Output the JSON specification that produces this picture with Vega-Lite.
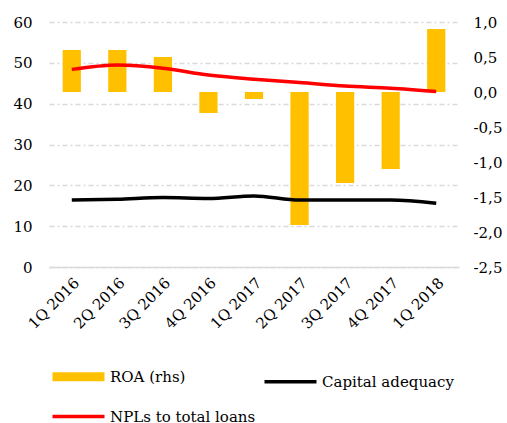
{
  "$schema": "https://vega.github.io/schema/vega-lite/v6.json",
  "width": 410,
  "height": 245,
  "autosize": {"type": "none"},
  "padding": {"left": 49, "top": 22, "right": 48, "bottom": 156},
  "background": "white",
  "config": {
    "view": {"stroke": null},
    "font": "DejaVu Serif",
    "axis": {"labelFont": "DejaVu Serif", "labelFontSize": 15, "labelColor": "#000000", "ticks": false, "domain": false, "title": null},
    "legend": {"labelFont": "DejaVu Serif", "labelFontSize": 15, "labelColor": "#000000"}
  },
  "data": {
    "values": [
      {"q": "1Q 2016", "s": "ROA (rhs)", "v": 0.6},
      {"q": "2Q 2016", "s": "ROA (rhs)", "v": 0.6},
      {"q": "3Q 2016", "s": "ROA (rhs)", "v": 0.5},
      {"q": "4Q 2016", "s": "ROA (rhs)", "v": -0.3},
      {"q": "1Q 2017", "s": "ROA (rhs)", "v": -0.1},
      {"q": "2Q 2017", "s": "ROA (rhs)", "v": -1.9},
      {"q": "3Q 2017", "s": "ROA (rhs)", "v": -1.3},
      {"q": "4Q 2017", "s": "ROA (rhs)", "v": -1.1},
      {"q": "1Q 2018", "s": "ROA (rhs)", "v": 0.9},
      {"q": "1Q 2016", "s": "Capital adequacy", "v": 16.4},
      {"q": "2Q 2016", "s": "Capital adequacy", "v": 16.6},
      {"q": "3Q 2016", "s": "Capital adequacy", "v": 17.0},
      {"q": "4Q 2016", "s": "Capital adequacy", "v": 16.8},
      {"q": "1Q 2017", "s": "Capital adequacy", "v": 17.4},
      {"q": "2Q 2017", "s": "Capital adequacy", "v": 16.4},
      {"q": "3Q 2017", "s": "Capital adequacy", "v": 16.4},
      {"q": "4Q 2017", "s": "Capital adequacy", "v": 16.4},
      {"q": "1Q 2018", "s": "Capital adequacy", "v": 15.6},
      {"q": "1Q 2016", "s": "NPLs to total loans", "v": 48.4},
      {"q": "2Q 2016", "s": "NPLs to total loans", "v": 49.5},
      {"q": "3Q 2016", "s": "NPLs to total loans", "v": 48.7},
      {"q": "4Q 2016", "s": "NPLs to total loans", "v": 47.0},
      {"q": "1Q 2017", "s": "NPLs to total loans", "v": 46.0},
      {"q": "2Q 2017", "s": "NPLs to total loans", "v": 45.2},
      {"q": "3Q 2017", "s": "NPLs to total loans", "v": 44.3},
      {"q": "4Q 2017", "s": "NPLs to total loans", "v": 43.8},
      {"q": "1Q 2018", "s": "NPLs to total loans", "v": 43.0}
    ]
  },
  "encoding": {
    "x": {
      "field": "q",
      "type": "nominal",
      "sort": ["1Q 2016", "2Q 2016", "3Q 2016", "4Q 2016", "1Q 2017", "2Q 2017", "3Q 2017", "4Q 2017", "1Q 2018"],
      "scale": {"paddingInner": 0.6, "paddingOuter": 0.3},
      "axis": {"labelAngle": -45, "labelPadding": 8, "domain": true, "domainColor": "#d9d9d9", "domainWidth": 1.5, "grid": false}
    },
    "color": {
      "field": "s",
      "type": "nominal",
      "scale": {"domain": ["ROA (rhs)", "Capital adequacy", "NPLs to total loans"], "range": ["#FFC000", "#000000", "#FF0000"]},
      "legend": {
        "orient": "none",
        "direction": "horizontal",
        "legendX": 22,
        "legendY": 347,
        "columns": 2,
        "title": null,
        "symbolType": "stroke",
        "symbolSize": 2704,
        "symbolStrokeWidth": 4,
        "labelOffset": 24,
        "rowPadding": 14,
        "columnPadding": 1,
        "labelLimit": 300,
        "symbolOpacity": 1,
        "encode": {
          "symbols": {
            "update": {
              "strokeWidth": {"signal": "datum.value === 'ROA (rhs)' ? 9 : 3.5"},
              "stroke": {"scale": "color", "field": "value"}
            }
          }
        }
      }
    }
  },
  "layer": [
    {
      "transform": [{"filter": "datum.s === 'ROA (rhs)'"}],
      "mark": {"type": "bar", "opacity": 1},
      "encoding": {
        "y": {
          "field": "v",
          "type": "quantitative",
          "scale": {"domain": [-2.5, 1], "nice": false, "zero": false},
          "axis": {"orient": "right", "values": [-2.5, -2, -1.5, -1, -0.5, 0, 0.5, 1], "labelExpr": "replace(replace(format(datum.value, '.1f'), '.', ','), '\u2212', '-')", "labelPadding": 14, "grid": false}
        }
      }
    },
    {
      "transform": [{"filter": "datum.s !== 'ROA (rhs)'"}],
      "mark": {"type": "line", "interpolate": "monotone", "strokeWidth": 3.5},
      "encoding": {
        "y": {
          "field": "v",
          "type": "quantitative",
          "scale": {"domain": [0, 60], "nice": false},
          "axis": {"orient": "left", "values": [0, 10, 20, 30, 40, 50, 60], "labelPadding": 17, "grid": true, "gridColor": "#d9d9d9", "gridDash": [5, 3, 2, 3], "gridWidth": 1.5}
        }
      }
    }
  ],
  "resolve": {"scale": {"y": "independent"}, "axis": {"y": "independent"}}
}
